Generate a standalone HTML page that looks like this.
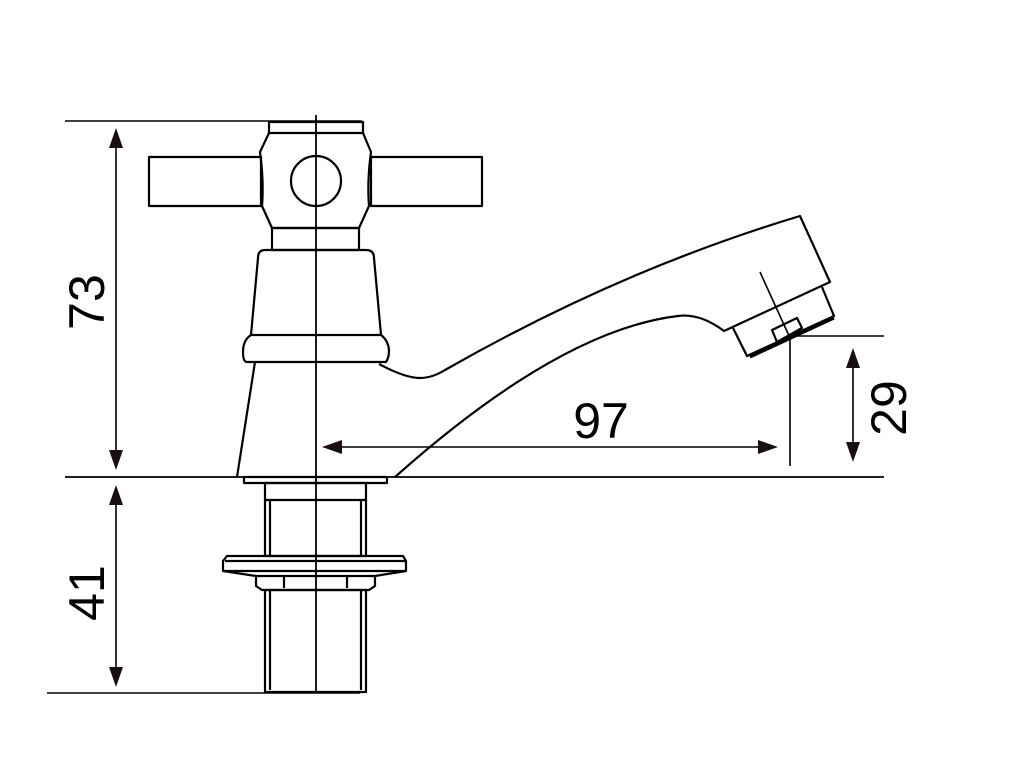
<!DOCTYPE html>
<html><head><style>html,body{margin:0;padding:0;background:#fff}svg{display:block}</style></head>
<body>
<svg width="1024" height="768" viewBox="0 0 1024 768" xmlns="http://www.w3.org/2000/svg">
<g fill="none" stroke="#000" stroke-width="2.2" stroke-linejoin="round">
<!-- extension lines -->
<line x1="65" y1="121" x2="362" y2="121" stroke-width="1.6"/>
<line x1="65" y1="477" x2="884" y2="477" stroke-width="1.8"/>
<line x1="47" y1="693" x2="360" y2="693" stroke-width="1.6"/>
<line x1="797" y1="336" x2="884" y2="336" stroke-width="1.6"/>
<line x1="790" y1="338" x2="790" y2="466" stroke-width="1.6"/>
<!-- centerline -->
<line x1="316" y1="115" x2="316" y2="693" stroke-width="1.8"/>
<!-- handle -->
<rect x="149" y="157" width="112" height="49"/>
<rect x="371" y="157" width="111" height="49"/>
<rect x="269" y="122" width="94" height="11"/>
<path d="M269,133 L260,152 Q264,181 262,206 L272,228 L359,228 L369,206 Q367,181 371,152 L363,133"/>
<circle cx="316" cy="181" r="25"/>
<rect x="272" y="228" width="87" height="22"/>
<path d="M265,250 Q258,250 258,258 L251,335 L381,335 L374,258 Q374,250 366,250 Z"/>
<path d="M251,335 Q243,340 243,352 Q243,362 247,362 L386,362 Q389,358 389,350 Q388,340 381,335"/>
<!-- body -->
<path d="M255,362 L237,477"/>
<path d="M379,364 Q405,378 420,378 Q432,378 445,370 Q620,270 800,216 L830,282 L724,331 Q700,313 678,316 Q560,330 395,477"/>
<!-- nozzle -->
<path d="M822,287 L834,316 L747,356 L733,328"/>
<path d="M834,318 L750,357" stroke-width="3"/>
<path d="M772,330 L797,318 L802,328 L777,342 Z"/>
<path d="M760,272 L790,338" stroke-width="1.6"/>
<!-- base plate -->
<rect x="244" y="477" width="143" height="6"/>
<rect x="265" y="483" width="101" height="73"/>
<line x1="265" y1="500" x2="366" y2="500"/>
<line x1="270" y1="500" x2="270" y2="556"/>
<line x1="361" y1="500" x2="361" y2="556"/>
<path d="M227,556 L403,556 L406,561 L406,571 L223,571 L223,561 Z"/>
<line x1="225" y1="561" x2="405" y2="561"/>
<path d="M223,571 L256,576 L256,586 L262,590 L369,590 L375,586 L375,576 L406,571"/>
<line x1="284" y1="576" x2="284" y2="588"/><line x1="347" y1="576" x2="347" y2="588"/>
<path d="M256,576 L375,576"/>
<rect x="265" y="590" width="101" height="102"/>
<line x1="270" y1="590" x2="270" y2="690"/>
<line x1="361" y1="590" x2="361" y2="690"/>
<!-- dims -->
<line x1="116" y1="140" x2="116" y2="458" stroke-width="1.6"/>
<line x1="116" y1="498" x2="116" y2="675" stroke-width="1.6"/>
<line x1="335" y1="447" x2="766" y2="447" stroke-width="1.6"/>
<line x1="853" y1="360" x2="853" y2="450" stroke-width="1.6"/>
</g>
<g fill="#1a0f0f">
<polygon points="116,128 109,148 123,148"/>
<polygon points="116,470 109,450 123,450"/>
<polygon points="116,485 109,505 123,505"/>
<polygon points="116,687 109,667 123,667"/>
<polygon points="322,447 342,440 342,454"/>
<polygon points="778,447 758,440 758,454"/>
<polygon points="853,348 846,368 860,368"/>
<polygon points="853,462 846,442 860,442"/>
</g>
<g font-family="Liberation Sans, sans-serif" font-size="50" fill="#000" text-anchor="middle">
<text transform="translate(104,302) rotate(-90)">73</text>
<text transform="translate(104,593) rotate(-90)">41</text>
<text x="601" y="438">97</text>
<text transform="translate(906,408) rotate(-90)">29</text>
</g>
</svg>
</body></html>
